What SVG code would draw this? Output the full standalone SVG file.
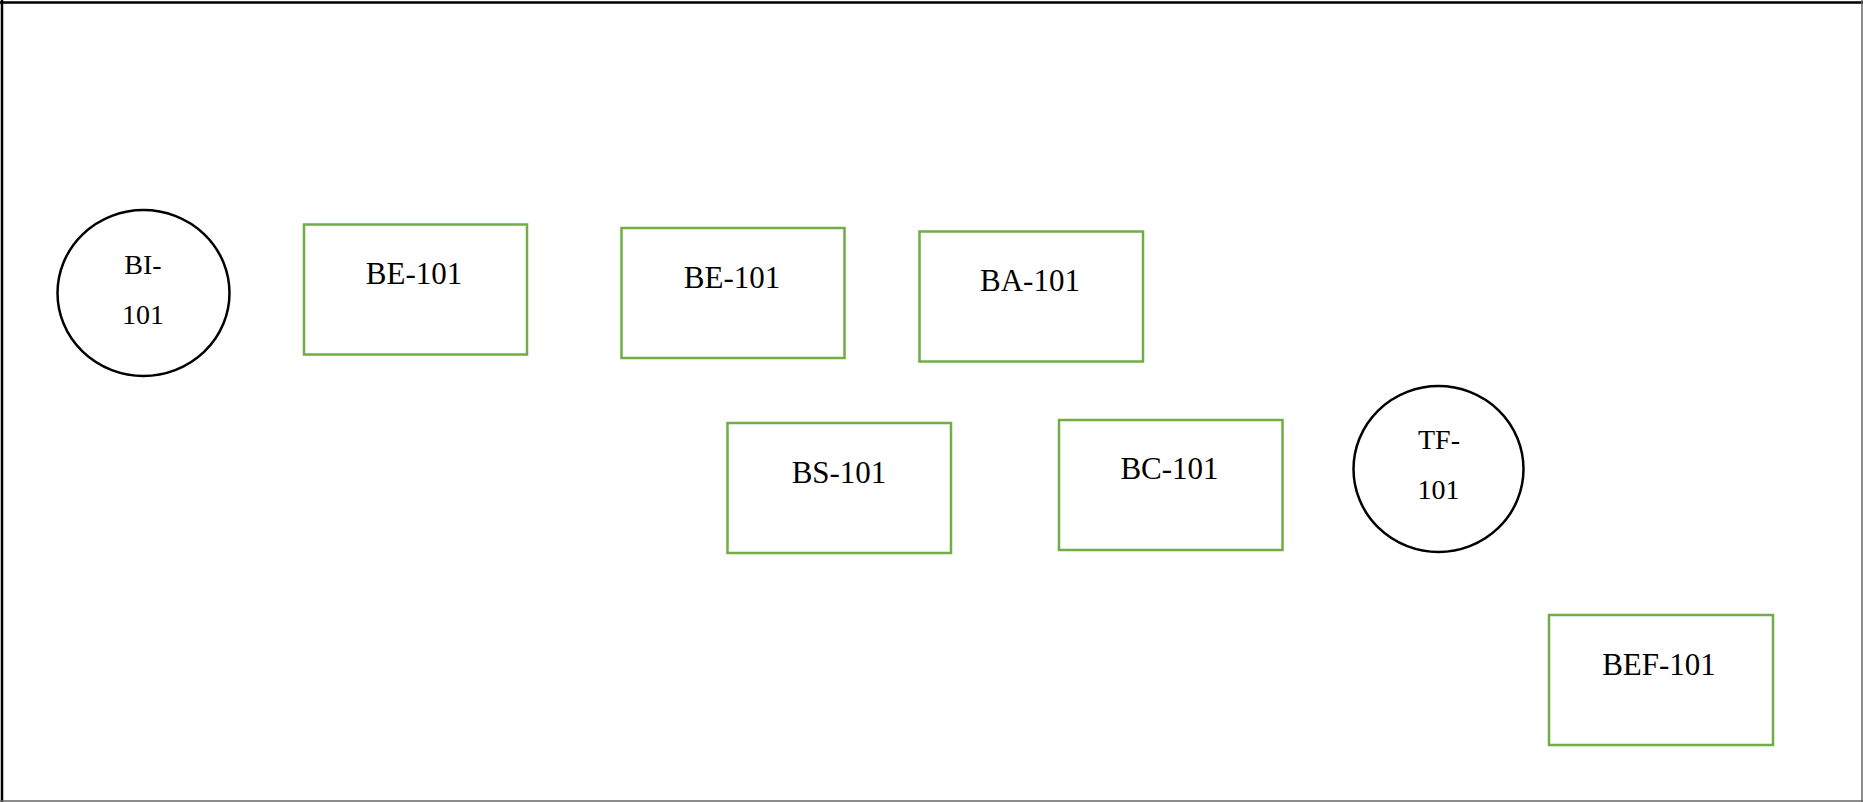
<svg xmlns="http://www.w3.org/2000/svg" width="1863" height="802" viewBox="0 0 1863 802">
<style>
.box{fill:#fff;stroke:#70AD47;stroke-width:2.5}
.circ{fill:#fff;stroke:#000;stroke-width:2.5}
.lbl{font-family:"Liberation Serif","Times New Roman",serif;font-size:31px;fill:#000;text-anchor:middle}
.clbl{font-family:"Liberation Serif","Times New Roman",serif;font-size:28px;fill:#000;text-anchor:middle}
</style>
<rect x="0" y="0" width="1863" height="802" fill="#fff"/>
<g id="frame">
<line x1="0" y1="2.5" x2="1863" y2="2.5" stroke="#000" stroke-width="2.5"/>
<line x1="2" y1="0" x2="2" y2="802" stroke="#000" stroke-width="2.5"/>
<line x1="1862" y1="0" x2="1862" y2="802" stroke="#666" stroke-width="1.5"/>
<line x1="0" y1="801" x2="1863" y2="801" stroke="#666" stroke-width="1.5"/>
</g>
<g id="connectors"></g>
<g id="BI-101">
<ellipse class="circ" cx="143.5" cy="293" rx="86" ry="83"/>
<text class="clbl" x="143" y="274">BI-</text>
<text class="clbl" x="143" y="324">101</text>
</g>
<g id="BE-101-a">
<rect class="box" x="304" y="224.5" width="223" height="130"/>
<text class="lbl" x="414" y="284">BE-101</text>
</g>
<g id="BE-101-b">
<rect class="box" x="621.5" y="228" width="223" height="130"/>
<text class="lbl" x="732" y="288">BE-101</text>
</g>
<g id="BA-101">
<rect class="box" x="919.5" y="231.5" width="223.5" height="130"/>
<text class="lbl" x="1030" y="291">BA-101</text>
</g>
<g id="BS-101">
<rect class="box" x="727.5" y="423" width="223.5" height="130"/>
<text class="lbl" x="839" y="483">BS-101</text>
</g>
<g id="BC-101">
<rect class="box" x="1059" y="420" width="223.5" height="130"/>
<text class="lbl" x="1169.5" y="479">BC-101</text>
</g>
<g id="TF-101">
<ellipse class="circ" cx="1438.5" cy="469" rx="85" ry="83"/>
<text class="clbl" x="1439" y="448.5">TF-</text>
<text class="clbl" x="1438.5" y="499">101</text>
</g>
<g id="BEF-101">
<rect class="box" x="1549" y="615" width="224" height="130"/>
<text class="lbl" x="1659" y="675">BEF-101</text>
</g>
</svg>
